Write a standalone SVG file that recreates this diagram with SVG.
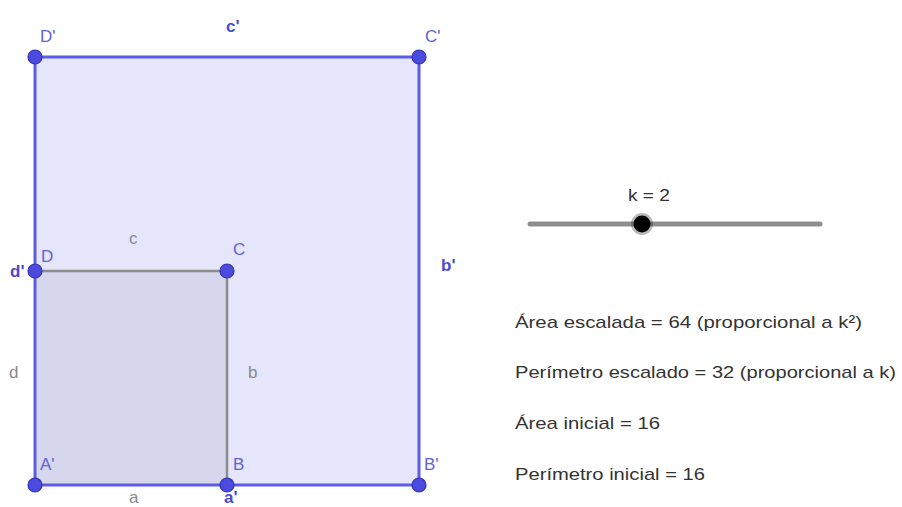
<svg xmlns="http://www.w3.org/2000/svg" width="902" height="507" viewBox="0 0 902 507">
<style>
.lbl{font-family:"Liberation Sans",Arial,sans-serif;font-size:17px}
.pt{fill:#4b4be0;stroke:#3333b0;stroke-width:1.2}
.blue{fill:#6262d8}
.bluebold{fill:#4a4ad0;font-weight:bold}
.gray{fill:#8a8a8a}
.info{font-family:"Liberation Sans",Arial,sans-serif;font-size:17px;fill:#333}
</style>
<rect width="902" height="507" fill="#ffffff"/>
<g id="big-square">
<rect x="35" y="57" width="384" height="428" fill="#e5e5fb"/>
</g>
<g id="small-square">
<rect x="35" y="271" width="192" height="214" fill="#d6d6ec"/>
</g>
<g id="connectors">
<line x1="35" y1="271" x2="227" y2="271" stroke="#8c8c8c" stroke-width="2.5"/>
<line x1="227" y1="271" x2="227" y2="485" stroke="#8c8c8c" stroke-width="2.5"/>
<polyline points="35,485 35,57 419,57 419,485 35,485" fill="none" stroke="#5c5ce6" stroke-width="3"/>
</g>
<g id="points">
<circle class="pt" cx="35" cy="57" r="7"/>
<circle class="pt" cx="419" cy="57" r="7"/>
<circle class="pt" cx="35" cy="271" r="7"/>
<circle class="pt" cx="227" cy="271" r="7"/>
<circle class="pt" cx="35" cy="485" r="7"/>
<circle class="pt" cx="227" cy="485" r="7"/>
<circle class="pt" cx="419" cy="485" r="7"/>
</g>
<g id="labels" class="lbl">
<text class="blue" x="40" y="42">D'</text>
<text class="blue" x="425" y="42">C'</text>
<text class="bluebold" x="226" y="32">c'</text>
<text class="blue" x="41" y="262">D</text>
<text class="bluebold" x="10" y="277">d'</text>
<text class="gray" x="129" y="244">c</text>
<text class="blue" x="233" y="255">C</text>
<text class="bluebold" x="441" y="271">b'</text>
<text class="gray" x="9" y="378">d</text>
<text class="gray" x="248" y="378">b</text>
<text class="blue" x="40" y="470">A'</text>
<text class="blue" x="233" y="470">B</text>
<text class="blue" x="424" y="470">B'</text>
<text class="gray" x="129" y="503">a</text>
<text class="bluebold" x="224" y="503">a'</text>
</g>
<g id="slider">
<text x="628" y="201" class="info" textLength="42" lengthAdjust="spacingAndGlyphs">k = 2</text>
<line x1="530" y1="224" x2="820" y2="224" stroke="#8e8e8e" stroke-width="5" stroke-linecap="round"/>
<circle cx="642" cy="224" r="11" fill="#1a1a1a" opacity="0.3"/>
<circle cx="642" cy="224" r="8.5" fill="#000"/>
</g>
<g id="info">
<text class="info" x="515" y="328" textLength="347" lengthAdjust="spacingAndGlyphs">Área escalada = 64 (proporcional a k²)</text>
<text class="info" x="515" y="378" textLength="381" lengthAdjust="spacingAndGlyphs">Perímetro escalado = 32 (proporcional a k)</text>
<text class="info" x="515" y="429" textLength="145" lengthAdjust="spacingAndGlyphs">Área inicial = 16</text>
<text class="info" x="515" y="480" textLength="190" lengthAdjust="spacingAndGlyphs">Perímetro inicial = 16</text>
</g>
</svg>
